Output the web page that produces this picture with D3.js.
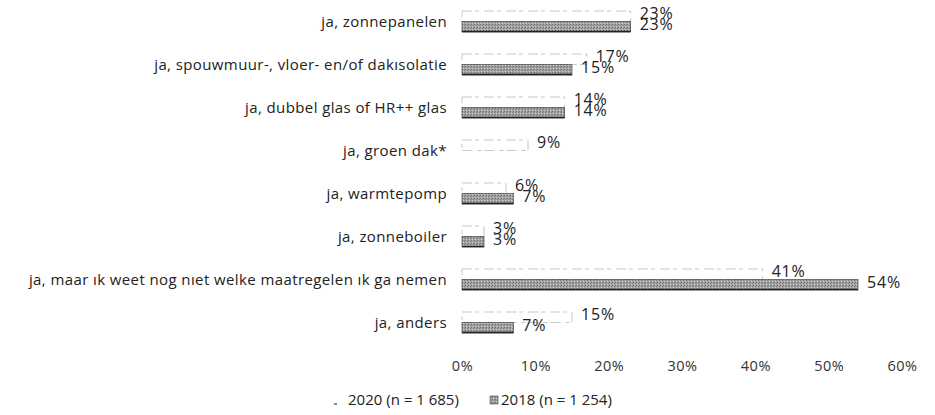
<!DOCTYPE html>
<html><head><meta charset="utf-8">
<script src="https://cdn.jsdelivr.net/npm/d3@7"></script>
<style>
body{margin:0;background:#fff;}
svg{display:block;font-family:"Open Sans",sans-serif;}
</style></head>
<body><svg id="c" width="935" height="415"></svg>
<script>
const categories = [
  "ja, zonnepanelen",
  "ja, spouwmuur-, vloer- en/of dakısolatie",
  "ja, dubbel glas of HR++ glas",
  "ja, groen dak*",
  "ja, warmtepomp",
  "ja, zonneboiler",
  "ja, maar ık weet nog nıet welke maatregelen ık ga nemen",
  "ja, anders"
];
const values2020 = [23, 17, 14, 9, 6, 3, 41, 15];
const values2018 = [23, 15, 14, null, 7, 3, 54, 7];
const tickValues = [0, 10, 20, 30, 40, 50, 60];
const seriesNames = ["2020 (n = 1 685)", "2018 (n = 1 254)"];

const FS = 15;
const svg = d3.select("#c");
const defs = svg.append("defs");
const pat = defs.append("pattern").attr("id","hatch").attr("patternUnits","userSpaceOnUse")
  .attr("width",3).attr("height",3);
pat.append("rect").attr("width",3).attr("height",3).attr("fill","#a4a4a4");
pat.append("rect").attr("x",0).attr("y",0).attr("width",1).attr("height",1).attr("fill","#6a6a6a");
pat.append("rect").attr("x",2).attr("y",1).attr("width",1).attr("height",1).attr("fill","#7c7c7c");
pat.append("rect").attr("x",1).attr("y",2).attr("width",1).attr("height",1).attr("fill","#cccccc");

const x = d3.scaleLinear().domain([0, 60]).range([462, 902]);
const y = d3.scaleBand().domain(categories).range([0, 344]).paddingInner(0.5).paddingOuter(0.25);
const bw = y.bandwidth();
const yc = d => y(d) + bw/2;

// category labels
svg.append("g").selectAll("text").data(categories).join("text")
  .attr("x", 447).attr("y", d => yc(d) + 1).attr("text-anchor","end")
  .attr("dominant-baseline","middle").attr("font-size", FS).attr("letter-spacing",0.4).attr("fill","#222")
  .text(d => d);

const h = 10.5;
// 2020 bars
svg.append("g").selectAll("rect").data(categories).join("rect")
  .attr("x", x(0)).attr("y", d => yc(d) - h)
  .attr("width", (d,i) => x(values2020[i]) - x(0)).attr("height", h)
  .attr("fill","#fff").attr("stroke","#b0b0b0").attr("stroke-width",0.7)
  .attr("stroke-dasharray","10,3,4,5");
// 2018 bars
const c18 = categories.map((c,i)=>({c, v: values2018[i]})).filter(d => d.v != null);
svg.append("g").selectAll("rect").data(c18).join("rect")
  .attr("x", x(0)).attr("y", d => yc(d.c))
  .attr("width", d => x(d.v) - x(0)).attr("height", h)
  .attr("fill","url(#hatch)").attr("stroke","#333").attr("stroke-width",0.6);
svg.append("g").selectAll("line").data(c18).join("line")
  .attr("x1", x(0)).attr("x2", d => x(d.v))
  .attr("y1", d => yc(d.c) + h - 0.5).attr("y2", d => yc(d.c) + h - 0.5)
  .attr("stroke","#222").attr("stroke-width",1.4);

// value labels
svg.append("g").selectAll("text").data(categories).join("text")
  .attr("x", (d,i) => x(values2020[i]) + 9).attr("y", d => yc(d) - 7)
  .attr("dominant-baseline","middle").attr("font-size",16).attr("letter-spacing",0.8).attr("fill","#222")
  .text((d,i) => values2020[i] + "%");
svg.append("g").selectAll("text").data(c18).join("text")
  .attr("x", d => x(d.v) + 9).attr("y", d => yc(d.c) + 4)
  .attr("dominant-baseline","middle").attr("font-size",16).attr("letter-spacing",0.8).attr("fill","#222")
  .text(d => d.v + "%");

// x axis
const ax = svg.append("g").attr("transform","translate(0,361)")
  .call(d3.axisBottom(x).tickValues(tickValues).tickFormat(d => d + "%").tickSize(0).tickPadding(0));
ax.select(".domain").remove();
ax.selectAll("text").attr("font-size",14.5).attr("letter-spacing",0.5).attr("fill","#333").attr("font-family","'Open Sans',sans-serif");

// legend
const lg = svg.append("g");
lg.append("rect").attr("x",334).attr("y",403).attr("width",3).attr("height",2).attr("fill","#888");
lg.append("text").attr("x",348).attr("y",401).attr("dominant-baseline","middle")
  .attr("font-size",FS).attr("fill","#222").text(seriesNames[0]);
lg.append("rect").attr("x",490).attr("y",396).attr("width",8).attr("height",8)
  .attr("fill","url(#hatch)").attr("stroke","#444").attr("stroke-width",0.6);
lg.append("text").attr("x",501).attr("y",401).attr("dominant-baseline","middle")
  .attr("font-size",FS).attr("fill","#222").text(seriesNames[1]);
</script></body></html>
